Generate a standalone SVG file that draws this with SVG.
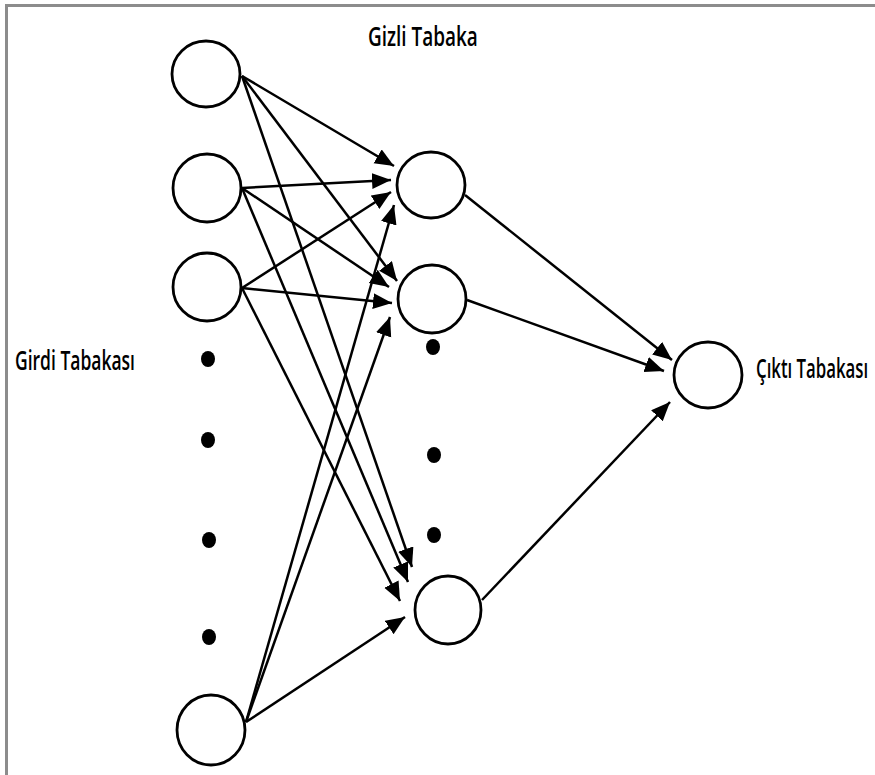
<svg xmlns="http://www.w3.org/2000/svg" width="875" height="775" viewBox="0 0 875 775">
  <style>
    .node { fill: #ffffff; stroke: #000000; stroke-width: 2.8; }
    .dot { fill: #000000; }
    .edge { stroke: #000000; stroke-width: 2.5; fill: none; marker-end: url(#head); }
    .label { font-family: "Open Sans", "Liberation Sans", sans-serif; font-weight: 600; font-size: 27px; fill: #000000; }
    .frame { stroke: #8c8c8c; stroke-width: 3; fill: none; }
  </style>
  <defs>
    <marker id="head" markerUnits="userSpaceOnUse" markerWidth="22" markerHeight="18" refX="19" refY="8" orient="auto">
      <path d="M0,0 L19,8 L0,16 z" fill="#000000"/>
    </marker>
  </defs>

  <rect width="875" height="775" fill="#ffffff"/>
  <!-- frame: left and top rules only -->
  <path class="frame" d="M6.5,775 L6.5,5.5 L875,5.5"/>

  <!-- connectors -->
  <g id="connectors">
    <line class="edge" x1="242" y1="76" x2="394" y2="166"/>
    <line class="edge" x1="242" y1="76" x2="397" y2="281"/>
    <line class="edge" x1="242" y1="76" x2="412" y2="567"/>
    <line class="edge" x1="242" y1="188" x2="391" y2="180"/>
    <line class="edge" x1="242" y1="188" x2="389" y2="287"/>
    <line class="edge" x1="242" y1="188" x2="408" y2="582"/>
    <line class="edge" x1="242" y1="288" x2="391" y2="192"/>
    <line class="edge" x1="242" y1="288" x2="392" y2="303"/>
    <line class="edge" x1="242" y1="288" x2="400" y2="601"/>
    <line class="edge" x1="246" y1="722" x2="394" y2="205"/>
    <line class="edge" x1="246" y1="722" x2="390" y2="317"/>
    <line class="edge" x1="246" y1="722" x2="405" y2="617"/>
    <line class="edge" x1="465" y1="195" x2="672" y2="360"/>
    <line class="edge" x1="467" y1="300" x2="664" y2="371"/>
    <line class="edge" x1="482" y1="600" x2="670" y2="402"/>
  </g>

  <!-- input layer -->
  <g id="input-1"><ellipse class="node" cx="206" cy="74" rx="34" ry="33"/></g>
  <g id="input-2"><ellipse class="node" cx="207" cy="188" rx="34" ry="34"/></g>
  <g id="input-3"><ellipse class="node" cx="207" cy="287" rx="34" ry="34"/></g>
  <g id="input-dots">
    <ellipse class="dot" cx="208" cy="359" rx="7" ry="8"/>
    <ellipse class="dot" cx="208" cy="440" rx="7" ry="8"/>
    <ellipse class="dot" cx="209" cy="540" rx="7" ry="8"/>
    <ellipse class="dot" cx="209" cy="637" rx="7" ry="8"/>
  </g>
  <g id="input-n"><ellipse class="node" cx="211" cy="730" rx="34" ry="35"/></g>

  <!-- hidden layer -->
  <g id="hidden-1"><ellipse class="node" cx="431" cy="185" rx="34" ry="33"/></g>
  <g id="hidden-2"><ellipse class="node" cx="432" cy="299" rx="34" ry="34"/></g>
  <g id="hidden-dots">
    <ellipse class="dot" cx="433" cy="347" rx="7" ry="8"/>
    <ellipse class="dot" cx="434" cy="455" rx="7" ry="8"/>
    <ellipse class="dot" cx="434" cy="535" rx="7" ry="8"/>
  </g>
  <g id="hidden-n"><ellipse class="node" cx="448" cy="610" rx="33" ry="34"/></g>

  <!-- output layer -->
  <g id="output"><ellipse class="node" cx="708" cy="375" rx="34" ry="33"/></g>

  <!-- layer labels, horizontally condensed -->
  <text class="label" transform="translate(368,46) scale(0.6,1)" x="0" y="0" textLength="183" lengthAdjust="spacingAndGlyphs">Gizli Tabaka</text>
  <text class="label" transform="translate(15,370) scale(0.6,1)" x="0" y="0" textLength="200" lengthAdjust="spacingAndGlyphs">Girdi Tabakası</text>
  <text class="label" transform="translate(756,378) scale(0.6,1)" x="0" y="0" textLength="187" lengthAdjust="spacingAndGlyphs">Çıktı Tabakası</text>
</svg>
